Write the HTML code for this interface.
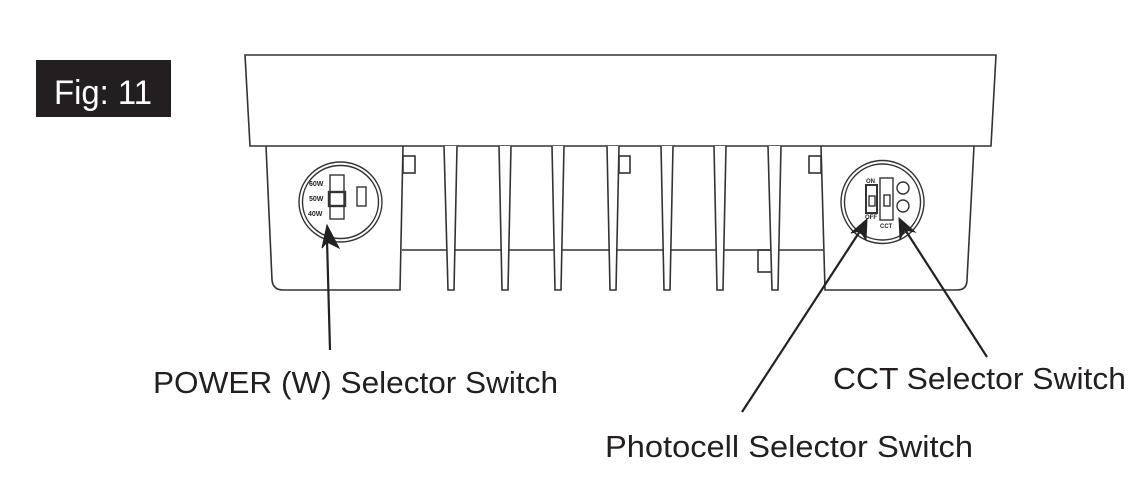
<!DOCTYPE html>
<html><head><meta charset="utf-8"><style>
html,body{margin:0;padding:0;background:#fff;}
svg{display:block;}
text{font-family:"Liberation Sans",sans-serif;}
</style></head><body>
<svg width="1144" height="483" viewBox="0 0 1144 483" xmlns="http://www.w3.org/2000/svg">
<rect x="0" y="0" width="1144" height="483" fill="#fff"/>
<rect x="36" y="60" width="135" height="57" fill="#231f20"/>
<text x="54" y="104" font-size="34" fill="#fff" textLength="98" lengthAdjust="spacingAndGlyphs">Fig: 11</text>
<g fill="none" stroke="#333" stroke-width="1.6">
<path d="M245,55 L996,55 L991,146 L250,146 Z" fill="#fff"/>
<path d="M266,146 L272,280 Q273,290 283,290 L400,290 L403,146"/>
<path d="M821,146 L825,290 L957,290 Q967,290 967,280 L974,146"/>
<line x1="402" y1="250" x2="823" y2="250"/>
<rect x="403" y="156" width="12" height="17"/>
<rect x="619" y="156" width="11" height="17"/>
<rect x="809" y="156" width="12" height="17"/>
<rect x="758" y="250" width="14" height="22"/>
</g>
<g fill="#fff" stroke="#333" stroke-width="1.6">
<path d="M444,146 L448,290 L454,290 L457,146"/>
<path d="M499,146 L502,290 L508,290 L511,146"/>
<path d="M552,146 L555,290 L561,290 L564,146"/>
<path d="M607,146 L610,290 L616,290 L619,146"/>
<path d="M661,146 L664,290 L670,290 L673,146"/>
<path d="M714,146 L717,290 L723,290 L726,146"/>
<path d="M768,146 L772,290 L778,290 L781,146"/>
</g>
<g fill="none" stroke="#333" stroke-width="1.4">
<ellipse cx="340.5" cy="202" rx="41.5" ry="40"/>
<ellipse cx="340.5" cy="202" rx="38" ry="36.5"/>
<rect x="330" y="175" width="14" height="44"/>
<rect x="329" y="192" width="16" height="14" stroke-width="2.4"/>
<rect x="357" y="187" width="9" height="19"/>
</g>
<g font-size="7" font-weight="bold" fill="#222">
<text x="309" y="186">60W</text>
<text x="309" y="201">50W</text>
<text x="308" y="216">40W</text>
</g>
<g fill="none" stroke="#333" stroke-width="1.4">
<circle cx="882.5" cy="202" r="41.5"/>
<circle cx="882.5" cy="202" r="38"/>
<rect x="866" y="185" width="11" height="28" stroke-width="2"/>
<rect x="869" y="196" width="6" height="10"/>
<rect x="880" y="178" width="13" height="42"/>
<rect x="884" y="195" width="6" height="11"/>
<circle cx="903" cy="188" r="6"/>
<circle cx="903" cy="206" r="6"/>
</g>
<g font-size="6" font-weight="bold" fill="#222">
<text x="866" y="183">ON</text>
<text x="865" y="219">OFF</text>
<text x="880" y="228">CCT</text>
</g>
<g stroke="#222" stroke-width="2.2" fill="#222">
<line x1="330" y1="350" x2="327" y2="240"/>
<polygon points="327,225 339,248 327,242 322,248" stroke-width="1"/>
<line x1="742" y1="412" x2="862" y2="228"/>
<polygon points="867,219 866,240 860,231 851,233" stroke-width="1"/>
<line x1="987" y1="357" x2="904" y2="228"/>
<polygon points="899,218 915,232 905,230 900,239" stroke-width="1"/>
</g>
<g font-size="31" fill="#231f20">
<text x="153" y="393" textLength="405" lengthAdjust="spacingAndGlyphs">POWER (W) Selector Switch</text>
<text x="833" y="389" textLength="293" lengthAdjust="spacingAndGlyphs">CCT Selector Switch</text>
<text x="605" y="457" textLength="368" lengthAdjust="spacingAndGlyphs">Photocell Selector Switch</text>
</g>
</svg>
</body></html>
